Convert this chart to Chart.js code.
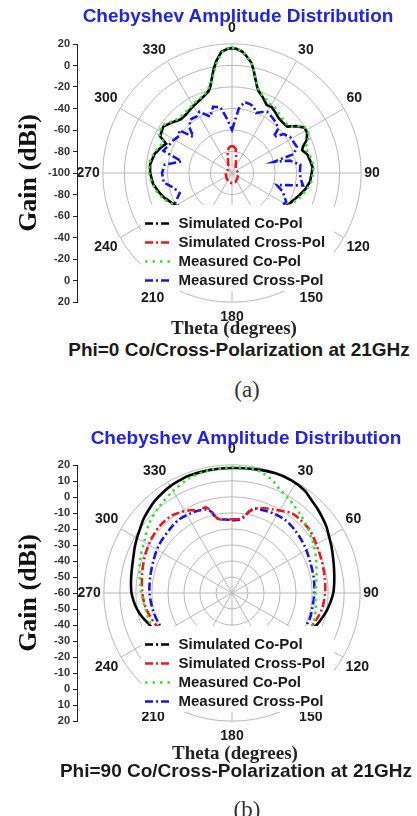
<!DOCTYPE html>
<html lang="en">
<head>
<meta charset="UTF-8">
<title>Chebyshev Amplitude Distribution</title>
<script src="https://cdn.jsdelivr.net/npm/chart.js"></script>
<style>
  body { margin: 0; background: #fff; font-family: 'Liberation Sans', Arial, sans-serif; }
  .page { position: relative; width: 417px; height: 816px; overflow: hidden; }
  .panel { position: absolute; left: 0; width: 417px; height: 406px; }
  .panel canvas { position: absolute; }
  .legend-box { position: absolute; background: #fff; width: 193px; height: 86px; }
  .txt { position: absolute; transform: translate(-50%, -50%); white-space: nowrap; line-height: 1; }
  .title { color: #2424dc; font-weight: bold; font-size: 19px; }
  .theta { font-family: 'Liberation Serif', 'Times New Roman', serif; font-weight: bold; font-size: 19px; color: #222; }
  .phi { font-weight: bold; font-size: 19px; color: #1a1a1a; }
  .tag { font-family: 'Liberation Serif', serif; font-size: 23px; color: #333; }
</style>
</head>
<body>
<div class="page">
  <div class="panel" style="top:0">
    <canvas id="polarA" width="340" height="306" style="left:59px; top:21px"></canvas>
    <canvas id="axisA" width="80" height="278" style="left:0; top:34px"></canvas>
    <div class="legend-box" style="left:141px; top:205px">
      <canvas id="legendA" width="193" height="80" style="left:0; top:7px"></canvas>
    </div>
    <div class="txt title" style="left:238px; top:15px">Chebyshev Amplitude Distribution</div>
    <div class="txt theta" style="left:234px; top:327px">Theta (degrees)</div>
    <div class="txt phi" style="left:239px; top:349px">Phi=0 Co/Cross-Polarization at 21GHz</div>
    <div class="txt tag" style="left:247px; top:389px">(a)</div>
  </div>
  <div class="panel" style="top:410px">
    <canvas id="polarB" width="340" height="304" style="left:59px; top:32px"></canvas>
    <canvas id="axisB" width="80" height="276" style="left:0; top:45px"></canvas>
    <div class="legend-box" style="left:141px; top:216px">
      <canvas id="legendB" width="193" height="80" style="left:0; top:7px"></canvas>
    </div>
    <div class="txt title" style="left:246px; top:27px">Chebyshev Amplitude Distribution</div>
    <div class="txt theta" style="left:235px; top:342px">Theta (degrees)</div>
    <div class="txt phi" style="left:236px; top:360px">Phi=90 Co/Cross-Polarization at 21GHz</div>
    <div class="txt tag" style="left:247px; top:399px">(b)</div>
  </div>
</div>

<script>
// theta categories, one per degree, clockwise from the top
const thetaLabels = Array.from({ length: 360 }, (_, i) => String(i));
const shownTheta = [0, 30, 60, 90, 120, 150, 180, 210, 240, 270, 300, 330];

// ---- Phi = 0 cut (gain in dBi) ----
const simCoThetaA = [0, 2, 5, 7, 10, 12, 14, 16, 18, 22, 27, 31, 36, 40, 45, 50, 54, 58, 62, 66, 70, 72, 76, 81, 86, 90, 96, 102, 108, 117, 135,
  225, 243, 250, 255, 262, 270, 276, 284, 290, 294, 297, 304, 310, 316, 321, 326, 331, 336, 340, 344, 346, 348, 350, 352, 355, 358];
const simCoGainA = [16, 15.5, 13, 9.5, 4, -3, -10, -16, -20, -24, -29, -28.5, -31, -33, -33.5, -33, -26, -20.5, -21, -24, -30, -31.5, -28, -26.5, -25, -26, -27, -30, -34, -39, -45,
  -45, -38, -33, -30, -26, -24, -23.5, -26, -30, -33, -25, -23, -27, -31, -31, -29.5, -28, -26, -24, -21, -17, -10, -2, 5, 13, 15.5];

const simCrossThetaA = [0, 4, 8, 12, 16, 25, 45, 90, 135, 160, 180, 200, 225, 270, 315, 335, 344, 348, 352, 356];
const simCrossGainA = [-75, -75.5, -77, -81, -86, -92, -95, -94, -93, -91, -90.5, -91, -93, -94, -95, -92, -86, -81, -77, -75.5];

const meaCoThetaA = [0, 3, 5, 8, 10, 13, 16, 19, 23, 28, 32, 37, 42, 47, 52, 56, 59, 63, 67, 71, 75, 80, 86, 91, 97, 103, 110, 118, 135,
  225, 242, 249, 256, 263, 270, 277, 284, 290, 294, 298, 304, 310, 316, 322, 327, 332, 337, 341, 344, 347, 349, 352, 355, 358];
const meaCoGainA = [16.5, 15, 13.5, 8, 4.5, -6, -15, -21, -23, -27, -26.5, -29, -31, -32, -30, -22, -19.5, -20, -23, -28, -27, -25, -24, -25, -26, -29, -33, -38, -45,
  -45, -38, -32, -28, -25, -23, -22.5, -25, -28, -31, -23, -21.5, -26, -29.5, -29, -28, -26, -24.5, -22.5, -19, -14, -8, 3, 12, 16];

const meaCrossThetaA = [0, 6, 10, 15, 18, 22, 26, 30, 35, 40, 46, 49, 53, 58, 63, 68, 73, 75, 78, 83, 90, 95, 100, 105, 110, 118, 135,
  225, 242, 249, 256, 262, 270, 277, 283, 288, 294, 299, 305, 309, 313, 317, 322, 328, 332, 339, 344, 350, 355];
const meaCrossGainA = [-60, -40, -33, -34, -35, -40, -37, -34.5, -36, -37.5, -40, -49, -40, -36.5, -36, -35, -40, -60, -45, -36, -37, -36, -33, -57, -50, -43, -46,
  -46, -40, -48, -44, -36, -35, -37, -52, -33, -36, -37.5, -40, -37, -51, -42, -37, -38, -35.5, -44, -36, -38, -50];

// ---- Phi = 90 cut (gain in dBi) ----
const simCoThetaB = [0, 10, 20, 28, 35, 40, 45, 50, 55, 60, 65, 70, 75, 80, 85, 90, 95, 100, 105, 110, 115, 125,
  235, 245, 250, 255, 260, 265, 270, 275, 280, 285, 290, 295, 300, 305, 310, 315, 320, 325, 330, 335, 340, 350];
const simCoGainB = [18, 18.5, 19.5, 19.5, 18.5, 16.5, 15, 13.5, 12, 10, 8.5, 7, 5.8, 4.8, 4, 3.2, 1.8, 0.3, -1.5, -3.3, -5.5, -9,
  -9, -6, -4.4, -2, 0, 1.5, 2.7, 3.3, 3.8, 4.5, 5.5, 7, 8.5, 10, 12, 13.5, 15, 16, 17, 17.5, 18, 18];

const simCrossThetaB = [0, 6, 9, 12, 17, 27, 37, 42, 50, 56, 63, 70, 80, 90, 100, 108, 125,
  235, 248, 260, 270, 283, 293, 303, 313, 323, 333, 338, 343, 346, 348, 351, 355];
const simCrossGainB = [-14, -13.5, -11.5, -8, -4.6, -1.6, 2.2, 2.5, 2.5, 1.5, 0.3, -0.5, -1.3, -1.9, -3, -5, -9,
  -12, -8.3, -5.5, -4, -2.5, -1, 0.5, 1.5, 1, -2, -4.5, -4.1, -8, -11.5, -13.5, -13.8];

const meaCoThetaB = [0, 5, 10, 15, 20, 25, 30, 35, 42, 50, 58, 65, 72, 80, 90, 100, 110, 125,
  235, 248, 260, 270, 280, 290, 301, 310, 320, 330, 340, 350];
const meaCoGainB = [18.5, 18.5, 18.5, 17, 14.5, 11, 9, 7, 4.6, 2, -0.4, -2.5, -4.6, -6.5, -8, -7, -6, -9,
  -11, -6, -5, -3.6, -1.5, 1, 3.7, 7.5, 10.5, 13.5, 16.5, 18];

const meaCrossThetaB = [0, 6, 9, 12, 15, 20, 28, 36, 45, 57, 68, 79, 90, 100, 110, 125,
  235, 247, 258, 270, 281, 292, 303, 315, 324, 333, 338, 343, 346, 348, 351, 355];
const meaCrossGainB = [-14.5, -14, -12, -8, -5.5, -4.9, -4, -3.6, -4.5, -6, -7.5, -8.1, -8.6, -9, -9, -12,
  -13, -10.6, -9.5, -8.5, -8, -7, -5.5, -4.5, -3.5, -4, -4.5, -5.5, -8, -12, -13.5, -14];

// left-hand gain axis: mirrored labels, top to bottom
const gainTicksA = [20, 0, -20, -40, -60, -80, -100, -80, -60, -40, -20, 0, 20];
const gainTicksB = [20, 10, 0, -10, -20, -30, -40, -50, -60, -50, -40, -30, -20, -10, 0, 10, 20];

const seriesStyle = [
  { label: 'Simulated Co-Pol', color: '#000000', width: 2.6, dash: [], legendDash: [8, 3, 2, 3], order: 1 },
  { label: 'Simulated Cross-Pol', color: '#e8191e', width: 2.6, dash: [8, 3, 2, 3], legendDash: [8, 3, 2, 3], order: 2 },
  { label: 'Measured Co-Pol', color: '#3ddc3d', width: 2.6, dash: [2.5, 4], legendDash: [2.5, 5], order: 0 },
  { label: 'Measured Cross-Pol', color: '#1616e0', width: 2.6, dash: [8, 3, 2, 3], legendDash: [8, 3, 2, 3], order: 3 }
];

const sans = "'Liberation Sans', Arial, sans-serif";
const serif = "'Liberation Serif', 'Times New Roman', serif";
const gridGray = '#b8b8b8';

// spread (theta, gain) readings onto the 1-degree category axis
function onThetaGrid(theta, gain) {
  const out = new Array(thetaLabels.length).fill(null);
  theta.forEach((t, i) => { out[t] = gain[i]; });
  return out;
}

// extra room for the labels on the vertical and just below the legend box
function labelPadding(ctx) {
  if (ctx.index % 180 === 0) return 7;
  if (ctx.index === 150 || ctx.index === 210) return 6;
  return 3;
}

function makePolar(id, series, min, max, step, tension) {
  return new Chart(document.getElementById(id), {
    type: 'radar',
    data: {
      labels: thetaLabels,
      datasets: series.map((s, k) => ({
        label: seriesStyle[k].label,
        data: onThetaGrid(s[0], s[1]),
        borderColor: seriesStyle[k].color,
        borderWidth: seriesStyle[k].width,
        borderDash: seriesStyle[k].dash,
        order: seriesStyle[k].order,
        fill: false,
        pointRadius: 0,
        spanGaps: true,
        tension: tension
      }))
    },
    options: {
      responsive: false,
      animation: false,
      events: [],
      plugins: { legend: { display: false }, tooltip: { enabled: false } },
      scales: {
        r: {
          min: min,
          max: max,
          ticks: { display: false, stepSize: step },
          grid: { circular: true, color: gridGray, lineWidth: 1 },
          angleLines: {
            color: ctx => ctx.index % 30 === 0 ? gridGray : 'rgba(0,0,0,0)',
            lineWidth: ctx => ctx.index % 30 === 0 ? 1 : 0
          },
          pointLabels: {
            callback: (label, i) => shownTheta.includes(i) ? label : '',
            color: '#1a1a1a',
            font: { family: sans, size: 14, weight: 'bold' },
            padding: labelPadding
          }
        }
      }
    }
  });
}

function makeGainAxis(id, min, max, step, labels) {
  return new Chart(document.getElementById(id), {
    type: 'line',
    data: { datasets: [] },
    options: {
      responsive: false,
      animation: false,
      events: [],
      layout: { padding: { top: 10, bottom: 10 } },
      plugins: { legend: { display: false }, tooltip: { enabled: false } },
      scales: {
        x: { display: false },
        y: {
          min: min,
          max: max,
          afterFit: scale => { scale.width = 77; },
          border: { display: true, color: '#222', width: 1 },
          grid: { drawOnChartArea: false, tickLength: 4, color: '#222' },
          ticks: {
            stepSize: step,
            autoSkip: false,
            padding: 3,
            color: '#333',
            font: { family: sans, size: 11, weight: 'bold' },
            callback: (v, i) => labels[i]
          },
          title: {
            display: true,
            text: 'Gain (dBi)',
            color: '#111',
            font: { family: serif, size: 26, weight: 'bold' },
            padding: { top: 14, bottom: 0 }
          }
        }
      }
    }
  });
}

// legend sits inside its own white box over the lower half of the polar plot
function makeLegend(id) {
  return new Chart(document.getElementById(id), {
    type: 'line',
    data: {
      datasets: seriesStyle.map(s => ({
        label: s.label,
        data: [],
        borderColor: s.color,
        backgroundColor: s.color,
        borderWidth: s.width
      }))
    },
    options: {
      responsive: false,
      animation: false,
      events: [],
      scales: { x: { display: false }, y: { display: false } },
      plugins: {
        tooltip: { enabled: false },
        legend: {
          position: 'chartArea',
          align: 'start',
          labels: {
            usePointStyle: true,
            pointStyle: 'line',
            pointStyleWidth: 26,
            padding: 4,
            color: '#1a1a1a',
            font: { family: sans, size: 15, weight: 'bold' },
            // point-style items don't carry the dash pattern, so add it back
            generateLabels: chart => Chart.defaults.plugins.legend.labels.generateLabels(chart)
              .map((item, i) => Object.assign(item, {
                lineDash: seriesStyle[i].legendDash,
                lineWidth: seriesStyle[i].width,
                strokeStyle: seriesStyle[i].color
              }))
          }
        }
      }
    }
  });
}

makePolar('polarA', [
  [simCoThetaA, simCoGainA], [simCrossThetaA, simCrossGainA],
  [meaCoThetaA, meaCoGainA], [meaCrossThetaA, meaCrossGainA]
], -100, 20, 20, 0);
makePolar('polarB', [
  [simCoThetaB, simCoGainB], [simCrossThetaB, simCrossGainB],
  [meaCoThetaB, meaCoGainB], [meaCrossThetaB, meaCrossGainB]
], -60, 20, 10, 0.3);

makeGainAxis('axisA', -120, 120, 20, gainTicksA);
makeGainAxis('axisB', -80, 80, 10, gainTicksB);
makeLegend('legendA');
makeLegend('legendB');
</script>
</body>
</html>
